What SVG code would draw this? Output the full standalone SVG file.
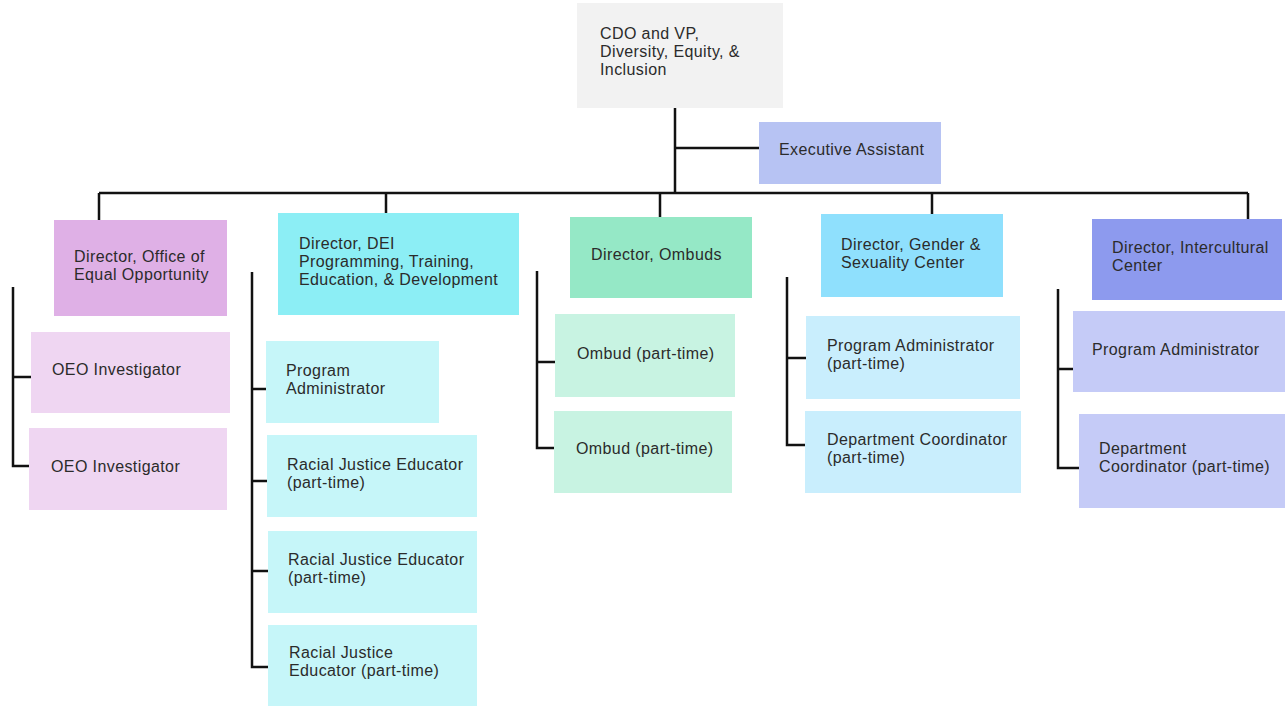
<svg xmlns="http://www.w3.org/2000/svg" width="1285" height="706" viewBox="0 0 1285 706">
<style>
text{font-family:"Liberation Sans",Arial,sans-serif;font-size:16px;letter-spacing:0.4px;fill:#2b2b2b}
.c{stroke:#111;stroke-width:2.5;fill:none}
</style>
<rect width="1285" height="706" fill="#fff"/>
<g id="connectors">
<path class="c" d="M675 108V193M675 148H759M99 193H1248M99 193V220M386 193V213M660 193V217M932 193V214M1248 193V219"/>
<path class="c" d="M13 287V466H31M13 377H31"/>
<path class="c" d="M252 272V667H268M252 389H266M252 481H267M252 571H268"/>
<path class="c" d="M537 271V448H554M537 362H555"/>
<path class="c" d="M787 277V445H805M787 358H806"/>
<path class="c" d="M1058 289V468H1079M1058 369H1073"/>
</g>
<g id="cdo"><rect x="577" y="3" width="206" height="105" fill="#f2f2f2"/><text x="600" y="39">CDO and VP,</text><text x="600" y="57">Diversity, Equity, &amp;</text><text x="600" y="75">Inclusion</text></g>
<g id="exec"><rect x="759" y="122" width="182" height="62" fill="#b7c3f3"/><text x="779" y="155">Executive Assistant</text></g>
<g id="dir-oeo"><rect x="54" y="220" width="173" height="96" fill="#dfb0e6"/><text x="74" y="262">Director, Office of</text><text x="74" y="280">Equal Opportunity</text></g>
<g id="dir-dei"><rect x="278" y="213" width="241" height="102" fill="#8ceef5"/><text x="299" y="249">Director, DEI</text><text x="299" y="267">Programming, Training,</text><text x="299" y="285">Education, &amp; Development</text></g>
<g id="dir-ombuds"><rect x="570" y="217" width="182" height="81" fill="#95e8c6"/><text x="591" y="260">Director, Ombuds</text></g>
<g id="dir-gender"><rect x="821" y="214" width="182" height="83" fill="#8fe0fd"/><text x="841" y="250">Director, Gender &amp;</text><text x="841" y="268">Sexuality  Center</text></g>
<g id="dir-ic"><rect x="1092" y="219" width="190" height="81" fill="#8d9aee"/><text x="1112" y="253">Director, Intercultural</text><text x="1112" y="271">Center</text></g>
<g id="oeo-inv-1"><rect x="31" y="332" width="199" height="81" fill="#efd6f2"/><text x="52" y="375">OEO Investigator</text></g>
<g id="oeo-inv-2"><rect x="29" y="428" width="198" height="82" fill="#efd6f2"/><text x="51" y="472">OEO Investigator</text></g>
<g id="dei-pa"><rect x="266" y="341" width="173" height="82" fill="#c6f6f9"/><text x="286" y="376">Program</text><text x="286" y="394">Administrator</text></g>
<g id="dei-rje-1"><rect x="267" y="435" width="210" height="82" fill="#c6f6f9"/><text x="287" y="470">Racial Justice Educator</text><text x="287" y="488">(part-time)</text></g>
<g id="dei-rje-2"><rect x="268" y="531" width="209" height="82" fill="#c6f6f9"/><text x="288" y="565">Racial Justice Educator</text><text x="288" y="583">(part-time)</text></g>
<g id="dei-rje-3"><rect x="268" y="625" width="209" height="81" fill="#c6f6f9"/><text x="289" y="658">Racial Justice</text><text x="289" y="676">Educator (part-time)</text></g>
<g id="ombud-1"><rect x="555" y="314" width="180" height="83" fill="#c8f3e2"/><text x="577" y="359">Ombud (part-time)</text></g>
<g id="ombud-2"><rect x="554" y="411" width="178" height="82" fill="#c8f3e2"/><text x="576" y="454">Ombud (part-time)</text></g>
<g id="gender-pa"><rect x="806" y="316" width="214" height="83" fill="#c9eefd"/><text x="827" y="351">Program Administrator</text><text x="827" y="369">(part-time)</text></g>
<g id="gender-dc"><rect x="805" y="411" width="216" height="82" fill="#c9eefd"/><text x="827" y="445">Department Coordinator</text><text x="827" y="463">(part-time)</text></g>
<g id="ic-pa"><rect x="1073" y="311" width="212" height="81" fill="#c5cbf7"/><text x="1092" y="355">Program Administrator</text></g>
<g id="ic-dc"><rect x="1079" y="414" width="206" height="94" fill="#c5cbf7"/><text x="1099" y="454">Department</text><text x="1099" y="472">Coordinator (part-time)</text></g>
</svg>
